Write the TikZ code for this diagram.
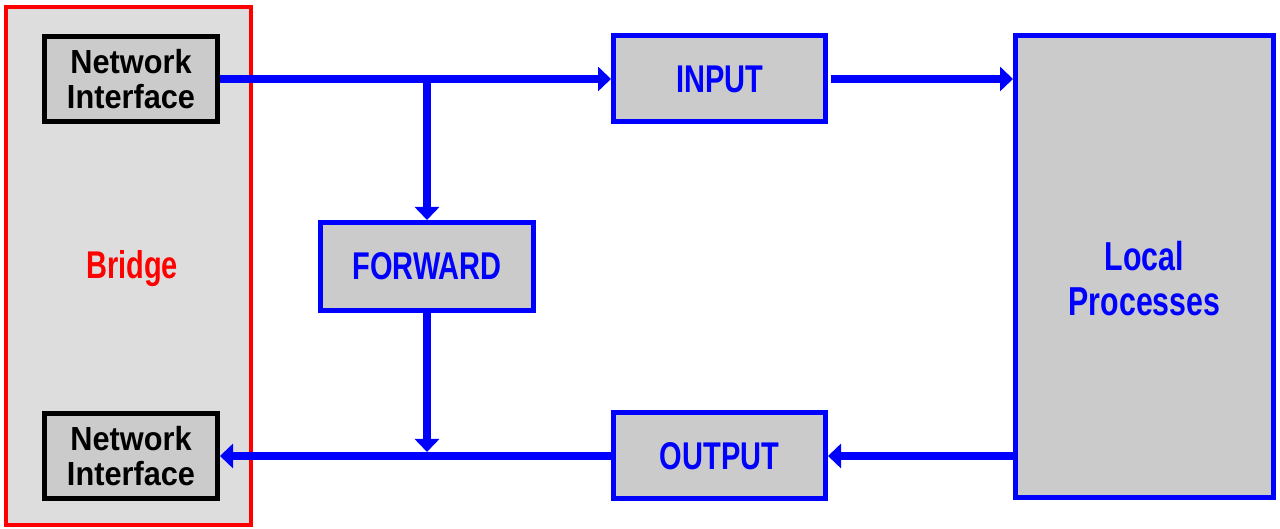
\documentclass[tikz,border=0pt]{standalone}
\usepackage{fontspec}
\setmainfont{Liberation Sans}[FakeStretch=0.75]
\newfontfamily\nifont{Liberation Sans}[FakeStretch=0.92]
\usepackage{tikz}
\usetikzlibrary{arrows.meta,positioning,calc}
\definecolor{boxgray}{RGB}{203,203,203}
\definecolor{bridgegray}{RGB}{221,221,221}

\tikzset{
  blk/.style={draw=blue, line width=0.5mm, fill=boxgray, text=blue, align=center,
              font=\bfseries\fontsize{11}{12.5}\selectfont},
  nif/.style={draw=black, line width=0.5mm, fill=boxgray, align=center,
              minimum width=17.3mm, minimum height=8.5mm,
              font=\nifont\bfseries\fontsize{9.5}{9.8}\selectfont},
  flow/.style={draw=blue, line width=0.8mm, -{Triangle[width=2.4mm,length=1.3mm]}}
}

\begin{document}
\begin{tikzpicture}[x=0.1mm,y=-0.1mm]
  \useasboundingbox (0,0) rectangle (1280,529);

  % bridge with its two interfaces
  \node[draw=red, line width=0.4mm, fill=bridgegray, minimum width=24.5mm, minimum height=51.8mm] (bridge) at (128.5,266) {};
  \node[text=red, font=\bfseries\fontsize{11}{12.5}\selectfont] (brlabel) at (132,269) {Bridge};
  \node[nif] (nitop) at (131,79) {Network\\Interface};
  \node[nif] (nibot) at (131,456) {Network\\Interface};

  % chains
  \node[blk, minimum width=21.2mm, minimum height=8.6mm] (input) at (719.5,79) {INPUT};
  \node[blk, minimum width=21.3mm, minimum height=8.8mm] (forward) at (427,266.5) {FORWARD};
  \node[blk, minimum width=21.2mm, minimum height=8.6mm] (output) at (719.5,456) {OUTPUT};
  \node[blk, minimum width=25.8mm, minimum height=46.2mm] (local) at (1144.5,266.5) {};
  \node[text=blue, align=center, font=\bfseries\fontsize{11.5}{12.8}\selectfont] (loclabel) at (1144.5,279) {Local\\Processes};

  \coordinate (split) at (forward.north |- nitop.east);
  \coordinate (merge) at (forward.south |- output.west);

  \draw[flow] (nitop.east) -- (input.west);
  \draw[flow] (split) -- (forward.north);
  \draw[flow, shorten <=0.3mm] (input.east) -- (local.west |- input.east);
  \draw[flow] (local.west |- output.east) -- (output.east);
  \draw[flow] (output.west) -- (nibot.east);
  \draw[flow, shorten >=0.4mm] (forward.south) -- (merge);
\end{tikzpicture}
\end{document}
